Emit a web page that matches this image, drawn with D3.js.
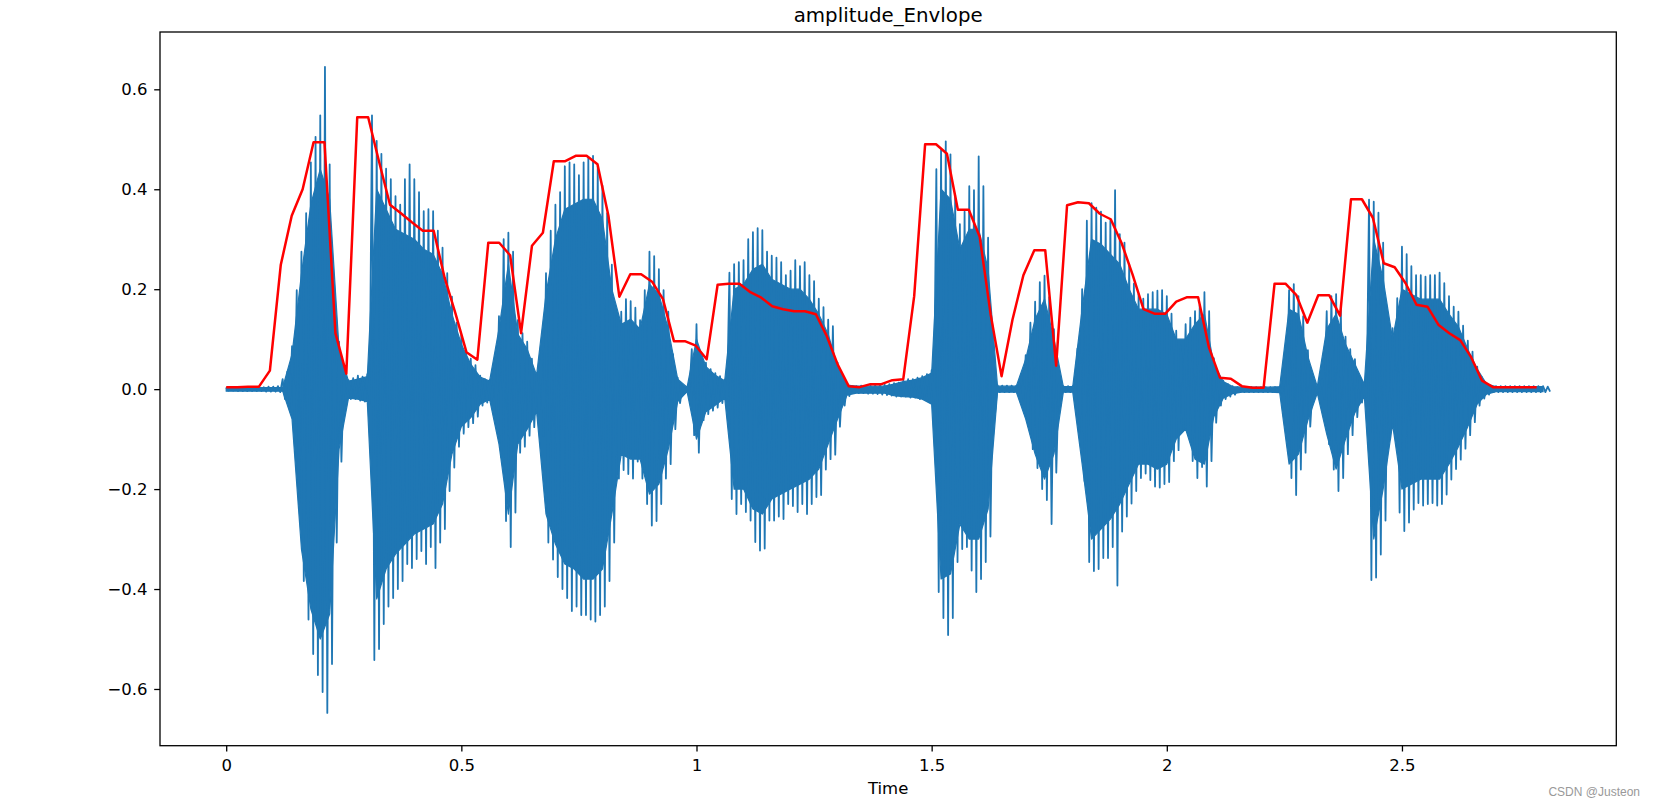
<!DOCTYPE html>
<html>
<head>
<meta charset="utf-8">
<script src="https://cdnjs.cloudflare.com/ajax/libs/d3/7.8.5/d3.min.js"></script>
<style>
  body { margin: 0; background: #fff; }
  svg { display: block; font-family: "DejaVu Sans", sans-serif; }
</style>
</head>
<body>
<svg id="chart" width="1656" height="806"></svg>
<script>
/* amplitude envelope over a speech waveform */

// waveform peaks, one pair every 0.01 s (positive tip / negative tip)
const waveStep = 0.01
const wavePos = [
  0.003, 0.003, 0.004, 0.004, 0.003, 0.004, 0.004, 0.004, 0.004, 0.005,
  0.005, 0.006, 0.020, 0.035, 0.086, 0.198, 0.275, 0.352, 0.454, 0.505,
  0.548, 0.645, 0.450, 0.200, 0.095, 0.027, 0.018, 0.022, 0.027, 0.025,
  0.030, 0.548, 0.497, 0.471, 0.441, 0.420, 0.386, 0.369, 0.420, 0.450,
  0.420, 0.394, 0.356, 0.360, 0.356, 0.317, 0.283, 0.232, 0.185, 0.133,
  0.108, 0.074, 0.061, 0.048, 0.027, 0.020, 0.018, 0.044, 0.146, 0.300,
  0.313, 0.275, 0.138, 0.112, 0.095, 0.061, 0.031, 0.078, 0.232, 0.317,
  0.369, 0.394, 0.446, 0.454, 0.450, 0.428, 0.454, 0.463, 0.467, 0.446,
  0.407, 0.352, 0.249, 0.146, 0.155, 0.180, 0.176, 0.163, 0.138, 0.198,
  0.275, 0.266, 0.240, 0.198, 0.155, 0.070, 0.023, 0.005, 0.004, 0.080,
  0.130, 0.066, 0.053, 0.040, 0.032, 0.026, 0.019, 0.233, 0.250, 0.254,
  0.258, 0.300, 0.314, 0.322, 0.318, 0.275, 0.267, 0.263, 0.254, 0.228,
  0.237, 0.258, 0.246, 0.254, 0.228, 0.216, 0.181, 0.164, 0.139, 0.126,
  0.053, 0.019, 0.009, 0.006, 0.006, 0.007, 0.006, 0.007, 0.008, 0.008,
  0.009, 0.010, 0.012, 0.013, 0.017, 0.020, 0.020, 0.023, 0.026, 0.030,
  0.038, 0.440, 0.479, 0.496, 0.470, 0.389, 0.330, 0.355, 0.406, 0.398,
  0.466, 0.406, 0.303, 0.064, 0.008, 0.007, 0.007, 0.007, 0.007, 0.030,
  0.068, 0.133, 0.175, 0.214, 0.227, 0.184, 0.120, 0.009, 0.006, 0.006,
  0.006, 0.081, 0.200, 0.337, 0.372, 0.363, 0.355, 0.333, 0.337, 0.398,
  0.310, 0.293, 0.250, 0.211, 0.190, 0.181, 0.190, 0.194, 0.197, 0.198,
  0.186, 0.151, 0.117, 0.087, 0.130, 0.143, 0.156, 0.168, 0.194, 0.156,
  0.062, 0.027, 0.017, 0.010, 0.006, 0.004, 0.004, 0.004, 0.004, 0.004,
  0.004, 0.004, 0.004, 0.004, 0.005, 0.027, 0.198, 0.210, 0.186, 0.146,
  0.078, 0.006, 0.005, 0.019, 0.156, 0.186, 0.190, 0.160, 0.105, 0.080,
  0.060, 0.024, 0.011, 0.379, 0.375, 0.353, 0.293, 0.097, 0.122, 0.182,
  0.285, 0.270, 0.246, 0.228, 0.228, 0.225, 0.228, 0.228, 0.233, 0.212,
  0.186, 0.165, 0.155, 0.127, 0.097, 0.075, 0.045, 0.024, 0.011, 0.006,
  0.006, 0.006, 0.006, 0.006, 0.006, 0.006, 0.006, 0.006, 0.006, 0.006,
  0.006, 0.005
]
const waveNeg = [
  -0.003, -0.003, -0.004, -0.004, -0.004, -0.004, -0.004, -0.004, -0.005, -0.005,
  -0.005, -0.006, -0.020, -0.037, -0.068, -0.230, -0.384, -0.461, -0.530, -0.572,
  -0.606, -0.648, -0.550, -0.307, -0.145, -0.033, -0.020, -0.020, -0.023, -0.025,
  -0.030, -0.542, -0.520, -0.470, -0.435, -0.418, -0.400, -0.384, -0.350, -0.358,
  -0.340, -0.324, -0.350, -0.316, -0.358, -0.307, -0.280, -0.204, -0.157, -0.115,
  -0.089, -0.076, -0.068, -0.055, -0.033, -0.027, -0.023, -0.050, -0.136, -0.264,
  -0.316, -0.247, -0.127, -0.115, -0.093, -0.076, -0.050, -0.093, -0.307, -0.341,
  -0.376, -0.400, -0.418, -0.444, -0.435, -0.452, -0.452, -0.461, -0.465, -0.452,
  -0.435, -0.384, -0.307, -0.179, -0.162, -0.170, -0.179, -0.145, -0.179, -0.230,
  -0.273, -0.264, -0.230, -0.179, -0.150, -0.080, -0.028, -0.007, -0.005, -0.092,
  -0.127, -0.062, -0.050, -0.043, -0.037, -0.028, -0.020, -0.220, -0.250, -0.230,
  -0.246, -0.263, -0.306, -0.323, -0.319, -0.263, -0.263, -0.255, -0.260, -0.230,
  -0.234, -0.246, -0.230, -0.250, -0.230, -0.216, -0.212, -0.161, -0.140, -0.131,
  -0.075, -0.033, -0.014, -0.008, -0.008, -0.008, -0.009, -0.009, -0.010, -0.011,
  -0.012, -0.013, -0.015, -0.015, -0.015, -0.017, -0.017, -0.020, -0.021, -0.026,
  -0.034, -0.406, -0.458, -0.492, -0.458, -0.346, -0.320, -0.316, -0.363, -0.406,
  -0.380, -0.346, -0.295, -0.047, -0.006, -0.006, -0.006, -0.006, -0.006, -0.021,
  -0.073, -0.120, -0.158, -0.200, -0.222, -0.270, -0.167, -0.009, -0.006, -0.006,
  -0.006, -0.090, -0.184, -0.346, -0.364, -0.360, -0.338, -0.338, -0.316, -0.393,
  -0.285, -0.255, -0.229, -0.204, -0.178, -0.169, -0.182, -0.195, -0.197, -0.190,
  -0.186, -0.144, -0.122, -0.080, -0.092, -0.144, -0.178, -0.156, -0.195, -0.144,
  -0.067, -0.033, -0.020, -0.015, -0.011, -0.006, -0.006, -0.006, -0.006, -0.006,
  -0.006, -0.006, -0.006, -0.006, -0.007, -0.033, -0.178, -0.212, -0.161, -0.127,
  -0.075, -0.011, -0.008, -0.020, -0.110, -0.161, -0.204, -0.178, -0.130, -0.092,
  -0.056, -0.027, -0.016, -0.382, -0.377, -0.331, -0.263, -0.100, -0.079, -0.247,
  -0.284, -0.267, -0.241, -0.228, -0.233, -0.230, -0.228, -0.233, -0.230, -0.211,
  -0.181, -0.160, -0.141, -0.119, -0.092, -0.066, -0.033, -0.019, -0.011, -0.006,
  -0.006, -0.006, -0.006, -0.006, -0.006, -0.006, -0.006, -0.006, -0.006, -0.006,
  -0.006, -0.005
]

// solid body of the waveform between the pitch spikes, every 0.02 s
const coreStep = 0.02
const coreUp = [
  0.003, 0.003, 0.003, 0.003, 0.003, 0.003, 0.003, 0.070, 0.230, 0.370,
  0.440, 0.380, 0.080, 0.016, 0.020, 0.025, 0.400, 0.360, 0.320, 0.310,
  0.300, 0.280, 0.270, 0.230, 0.150, 0.090, 0.050, 0.024, 0.016, 0.120,
  0.250, 0.110, 0.080, 0.028, 0.190, 0.300, 0.360, 0.370, 0.380, 0.380,
  0.340, 0.200, 0.130, 0.140, 0.120, 0.210, 0.190, 0.120, 0.020, 0.004,
  0.100, 0.045, 0.028, 0.017, 0.200, 0.210, 0.240, 0.250, 0.220, 0.210,
  0.200, 0.200, 0.180, 0.150, 0.110, 0.045, 0.008, 0.006, 0.006, 0.006,
  0.006, 0.010, 0.015, 0.018, 0.023, 0.032, 0.400, 0.380, 0.280, 0.320,
  0.320, 0.240, 0.006, 0.006, 0.006, 0.060, 0.140, 0.180, 0.100, 0.005,
  0.005, 0.160, 0.300, 0.290, 0.270, 0.250, 0.200, 0.160, 0.160, 0.160,
  0.150, 0.100, 0.100, 0.130, 0.150, 0.050, 0.015, 0.005, 0.004, 0.004,
  0.004, 0.004, 0.005, 0.160, 0.150, 0.065, 0.005, 0.120, 0.150, 0.090,
  0.050, 0.010, 0.300, 0.220, 0.100, 0.200, 0.190, 0.180, 0.180, 0.180,
  0.150, 0.125, 0.080, 0.040, 0.010, 0.005, 0.005, 0.005, 0.005, 0.005,
  0.005
]
const coreLo = [
  -0.004, -0.004, -0.004, -0.004, -0.004, -0.004, -0.004, -0.060, -0.320, -0.440,
  -0.500, -0.450, -0.120, -0.018, -0.020, -0.025, -0.420, -0.360, -0.330, -0.310,
  -0.290, -0.280, -0.270, -0.230, -0.130, -0.075, -0.057, -0.030, -0.020, -0.110,
  -0.250, -0.110, -0.080, -0.045, -0.250, -0.310, -0.350, -0.360, -0.380, -0.380,
  -0.360, -0.250, -0.130, -0.140, -0.140, -0.210, -0.190, -0.120, -0.025, -0.005,
  -0.100, -0.045, -0.032, -0.018, -0.200, -0.200, -0.240, -0.250, -0.220, -0.210,
  -0.200, -0.190, -0.180, -0.160, -0.110, -0.060, -0.012, -0.008, -0.008, -0.008,
  -0.008, -0.013, -0.015, -0.016, -0.020, -0.030, -0.380, -0.370, -0.270, -0.300,
  -0.300, -0.240, -0.006, -0.006, -0.006, -0.060, -0.130, -0.180, -0.130, -0.006,
  -0.006, -0.150, -0.300, -0.280, -0.260, -0.230, -0.190, -0.150, -0.150, -0.160,
  -0.150, -0.100, -0.080, -0.140, -0.150, -0.055, -0.018, -0.009, -0.006, -0.006,
  -0.006, -0.006, -0.007, -0.150, -0.130, -0.062, -0.008, -0.090, -0.160, -0.100,
  -0.047, -0.014, -0.300, -0.200, -0.070, -0.200, -0.190, -0.180, -0.180, -0.180,
  -0.150, -0.115, -0.075, -0.030, -0.010, -0.005, -0.005, -0.005, -0.005, -0.005,
  -0.005
]

// amplitude envelope, one value per frame (hop 512 @ 22050 Hz)
const frameHop = 512 / 22050
const envelope = [
  0.004, 0.004, 0.005, 0.005, 0.037, 0.249, 0.347, 0.400, 0.494, 0.494,
  0.112, 0.031, 0.544, 0.544, 0.455, 0.369, 0.352, 0.334, 0.317, 0.317,
  0.223, 0.151, 0.074, 0.059, 0.293, 0.293, 0.268, 0.112, 0.287, 0.313,
  0.456, 0.456, 0.467, 0.467, 0.450, 0.347, 0.185, 0.230, 0.230, 0.215,
  0.180, 0.096, 0.096, 0.087, 0.060, 0.209, 0.211, 0.211, 0.194, 0.183,
  0.166, 0.160, 0.156, 0.156, 0.150, 0.106, 0.049, 0.006, 0.004, 0.010,
  0.010, 0.018, 0.020, 0.186, 0.490, 0.490, 0.471, 0.359, 0.359, 0.305,
  0.150, 0.026, 0.139, 0.228, 0.278, 0.278, 0.047, 0.368, 0.374, 0.372,
  0.351, 0.340, 0.292, 0.229, 0.160, 0.151, 0.151, 0.175, 0.184, 0.184,
  0.083, 0.023, 0.021, 0.006, 0.003, 0.003, 0.211, 0.211, 0.188, 0.133,
  0.188, 0.188, 0.147, 0.380, 0.380, 0.343, 0.252, 0.244, 0.212, 0.169,
  0.165, 0.129, 0.112, 0.098, 0.064, 0.017, 0.004, 0.004, 0.004, 0.004,
  0.004
]

const xTicks = [0, 0.5, 1, 1.5, 2, 2.5]
const yTicks = [-0.6, -0.4, -0.2, 0.0, 0.2, 0.4, 0.6]
const titleText = 'amplitude_Envlope'
const xLabel = 'Time'
const watermark = 'CSDN @Justeon'

// layout
const plotLeft = 160
const plotRight = 1616.3
const plotTop = 32
const plotBottom = 745.7
const xDomain = [-0.14075, 2.95575]
const yDomain = [-0.7135, 0.7147]
const waveColor = '#1f77b4'
const envColor = '#ff0000'
const tickFont = '16.5px'

let svg = d3.select('#chart')

let xScale = d3.scaleLinear().domain(xDomain).range([plotLeft, plotRight])
let yScale = d3.scaleLinear().domain(yDomain).range([plotBottom, plotTop])

let plotWave = function (canvas) {
  // solid core
  let coreData = coreUp.map((v, j) => ({t: j * coreStep, up: v, lo: coreLo[j]}))
  let area = d3.area()
    .x(d => xScale(d.t))
    .y0(d => yScale(d.lo))
    .y1(d => yScale(d.up))
  canvas.append('path')
    .attr('d', area(coreData))
    .style('fill', waveColor)
    .style('stroke', waveColor)
    .style('stroke-width', 1.2)
    .style('stroke-linejoin', 'round')

  // spikes: the signal swings from each positive tip to its negative tip
  let pts = []
  wavePos.forEach((v, i) => {
    pts.push([i * waveStep, v])
    pts.push([i * waveStep + waveStep / 2, waveNeg[i]])
  })
  let line = d3.line()
    .x(d => xScale(d[0]))
    .y(d => yScale(d[1]))
  canvas.append('path')
    .attr('d', line(pts))
    .style('fill', 'none')
    .style('stroke', waveColor)
    .style('stroke-width', 1.8)
    .style('stroke-linejoin', 'round')
}

let plotEnvelope = function (canvas) {
  let line = d3.line()
    .x((d, k) => xScale(k * frameHop))
    .y(d => yScale(d))
  canvas.append('path')
    .attr('d', line(envelope))
    .style('fill', 'none')
    .style('stroke', envColor)
    .style('stroke-width', 2.5)
    .style('stroke-linejoin', 'round')
}

let plotAxis = function (canvas) {
  let xAxis = canvas.append('g')
    .attr('transform', `translate(0, ${plotBottom})`)
    .call(d3.axisBottom(xScale).tickValues(xTicks).tickFormat(d => String(d)).tickSize(5.8).tickPadding(7.4))
  let yAxis = canvas.append('g')
    .attr('transform', `translate(${plotLeft}, 0)`)
    .call(d3.axisLeft(yScale).tickValues(yTicks).tickFormat(d3.format('.1f')).tickSize(5.8).tickPadding(6.6))
  for (let ax of [xAxis, yAxis]) {
    ax.select('.domain').remove()
    ax.selectAll('.tick line').style('stroke', '#000').style('stroke-width', 1.3)
    ax.selectAll('.tick text')
      .style('font-size', tickFont)
      .style('font-family', '"DejaVu Sans", sans-serif')
      .style('fill', '#000')
  }
  canvas.append('rect')
    .attr('x', plotLeft)
    .attr('y', plotTop)
    .attr('width', plotRight - plotLeft)
    .attr('height', plotBottom - plotTop)
    .style('fill', 'none')
    .style('stroke', '#000')
    .style('stroke-width', 1.3)
}

let plotText = function () {
  let mid = (plotLeft + plotRight) / 2
  svg.append('text')
    .attr('x', mid)
    .attr('y', 22)
    .style('text-anchor', 'middle')
    .style('font-size', '19.8px')
    .text(titleText)
  svg.append('text')
    .attr('x', mid)
    .attr('y', 794.3)
    .style('text-anchor', 'middle')
    .style('font-size', tickFont)
    .text(xLabel)
  svg.append('text')
    .attr('x', 1640)
    .attr('y', 796)
    .style('text-anchor', 'end')
    .style('font-family', '"Liberation Sans", Arial, sans-serif')
    .style('font-size', '12px')
    .style('fill', '#999')
    .text(watermark)
}

let canvas = svg.append('g')
plotWave(canvas)
plotEnvelope(canvas)
plotAxis(canvas)
plotText()
</script>
</body>
</html>
